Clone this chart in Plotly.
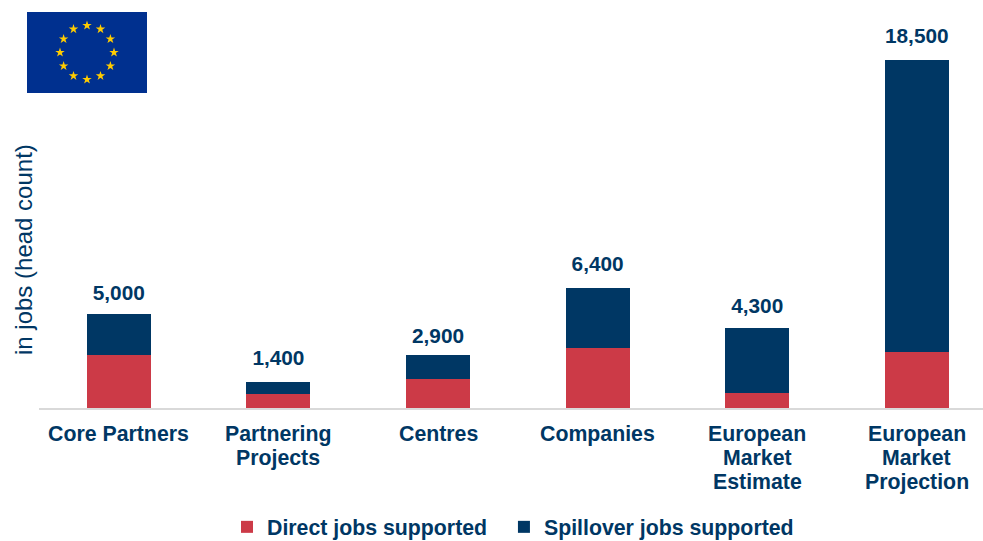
import math, base64
import plotly.graph_objects as go

categories = ["Core Partners", "Partnering Projects", "Centres", "Companies",
              "European Market Estimate", "European Market Projection"]
category_lines = [["Core Partners"], ["Partnering", "Projects"], ["Centres"], ["Companies"],
                  ["European", "Market", "Estimate"], ["European", "Market", "Projection"]]
direct = [2800, 750, 1550, 3200, 800, 3000]
spillover = [2200, 630, 1270, 3180, 3455, 15510]
bar_tops = [d + s for d, s in zip(direct, spillover)]
total_labels = ["5,000", "1,400", "2,900", "6,400", "4,300", "18,500"]
label_pad = [12, 18, 10, 18, 14, 18]

NAVY = "#003764"
RED = "#CC3A47"
W, H = 983, 541
L, B = 39, 133
PW, PH = W - L, H - B

def star(cx, cy, r):
    pts = []
    for i in range(10):
        rr = r if i % 2 == 0 else r * 0.382
        a = -math.pi / 2 + i * math.pi / 5
        pts.append(f"{cx + rr * math.cos(a):.2f},{cy + rr * math.sin(a):.2f}")
    return f'<polygon points="{" ".join(pts)}" fill="#FFCC00"/>'

stars = "".join(star(60 + 27 * math.sin(i * math.pi / 6), 40.5 - 27 * math.cos(i * math.pi / 6), 5) for i in range(12))
svg = f'<svg xmlns="http://www.w3.org/2000/svg" width="120" height="81" viewBox="0 0 120 81"><rect width="120" height="81" fill="#00308F"/>{stars}</svg>'
flag = "data:image/svg+xml;base64," + base64.b64encode(svg.encode()).decode()

FONT = "Liberation Sans"
SIZE = 21.3
fig = go.Figure()
fig.add_bar(x=categories, y=direct, name="<b>Direct jobs supported</b>&nbsp;&nbsp;", marker_color=RED, marker_line_width=0)
fig.add_bar(x=categories, y=spillover, name="<b>Spillover jobs supported</b>", marker_color=NAVY, marker_line_width=0)
fig.add_scatter(x=categories, y=bar_tops, mode="markers+text", text=total_labels, textposition="top center",
                marker=dict(size=label_pad, opacity=0),
                textfont=dict(family=FONT, size=20.8, color=NAVY, weight="bold"), showlegend=False, hoverinfo="skip")

annotations = [dict(text="in jobs (head count)", xref="paper", yref="paper", x=(23 - L) / PW, y=(408 - 250) / PH,
                    textangle=-90, showarrow=False, xanchor="center", yanchor="middle",
                    font=dict(family=FONT, size=24, color=NAVY))]
for cat, lines in zip(categories, category_lines):
    for i, line in enumerate(lines):
        annotations.append(dict(text=f"<b>{line}</b>", x=cat, xref="x", y=0, yref="paper", yanchor="middle",
                                yshift=-(26 + 24 * i), showarrow=False,
                                font=dict(family=FONT, size=SIZE, color=NAVY)))

fig.update_layout(
    width=W, height=H, barmode="stack", bargap=0.6,
    paper_bgcolor="white", plot_bgcolor="white",
    margin=dict(l=L, r=0, t=0, b=B), autosize=False,
    font=dict(family=FONT, size=SIZE, color=NAVY),
    legend=dict(orientation="h", x=(227 - L) / PW, xanchor="left", yref="container", y=14 / H, yanchor="middle",
                font=dict(family=FONT, size=SIZE, color=NAVY), traceorder="normal", itemwidth=30,
                bgcolor="rgba(0,0,0,0)"),
    images=[dict(source=flag, xref="paper", yref="paper", x=(27 - L) / PW, y=(408 - 12) / PH, sizex=120 / PW, sizey=81 / PH,
                 xanchor="left", yanchor="top", sizing="stretch", layer="above")],
    annotations=annotations,
)
fig.update_xaxes(showline=True, linecolor="#D9D9D9", linewidth=2, ticks="", showgrid=False, showticklabels=False,
                 range=[-0.5, -0.5 + PW / 159.6])
fig.update_yaxes(range=[0, PH / 0.0188], visible=False, showgrid=False, zeroline=False)
fig.write_html("out.html", post_script="document.body.style.margin='0';", config={"displayModeBar": False})
